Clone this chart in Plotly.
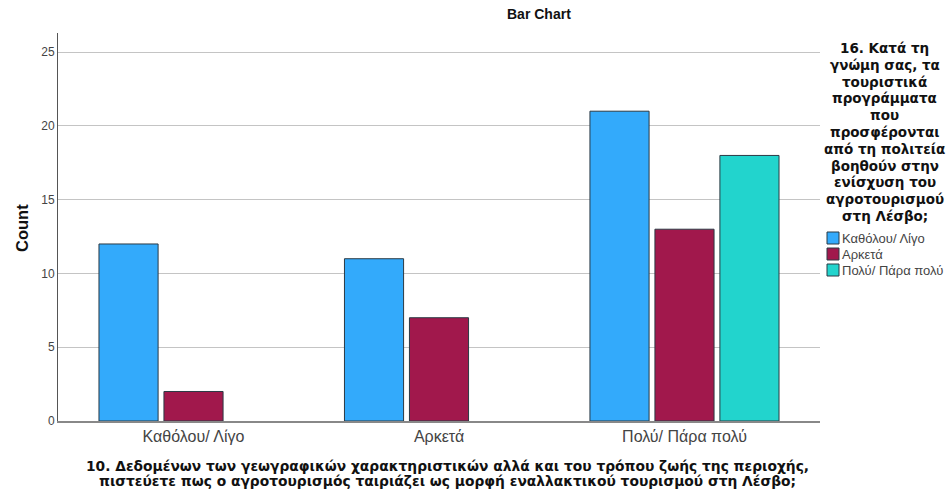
import plotly.graph_objects as go

categories = ["Καθόλου/ Λίγο", "Αρκετά", "Πολύ/ Πάρα πολύ"]
series_names = ["Καθόλου/ Λίγο", "Αρκετά", "Πολύ/ Πάρα πολύ"]
series_values = [
    [12, 11, 21],
    [2, 7, 13],
    [None, None, 18],
]
colors = ["#33aafb", "#a1184c", "#22d4cd"]
y_ticks = [0, 5, 10, 15, 20, 25]
legend_title = ["16. Κατά τη", "γνώμη σας, τα", "τουριστικά", "προγράμματα", "που",
                "προσφέρονται", "από τη πολιτεία", "βοηθούν στην", "ενίσχυση του",
                "αγροτουρισμού", "στη Λέσβο;"]
x_title = ["10. Δεδομένων των γεωγραφικών χαρακτηριστικών αλλά και του τρόπου ζωής της περιοχής,",
           "πιστεύετε πως ο αγροτουρισμός ταιριάζει ως μορφή εναλλακτικού τουρισμού στη Λέσβο;"]

W, H = 947, 493
L, R, T, B = 58, 127, 33, 72
pw, ph = W - L - R, H - T - B


def px(x):
    return (x - L) / pw


def py(y):
    return (H - B - y) / ph


fig = go.Figure()
for name, vals, col in zip(series_names, series_values, colors):
    fig.add_trace(go.Bar(
        x=categories, y=vals, name=name,
        marker=dict(color=col, line=dict(color="#2b3a44", width=1)),
        showlegend=False,
    ))

font = "Liberation Sans, Arial, sans-serif"
bold_font = "DejaVu Sans, Liberation Sans, Arial, sans-serif"

ann = []
shapes = []
ann.append(dict(text="<b>Bar Chart</b>", x=px(539), y=py(14), yanchor="middle",
                font=dict(size=14, color="#111")))
ann.append(dict(text="<b>Count</b>", x=px(22), y=py(228), textangle=-90, yanchor="middle",
                font=dict(size=16.5, color="#111")))
for i, line in enumerate(x_title):
    ann.append(dict(text="<b>%s</b>" % line, x=px(447), y=py(466 + i * 15.5), yanchor="middle",
                    font=dict(family=bold_font, size=13.8, color="#111")))
for i, line in enumerate(legend_title):
    ann.append(dict(text="<b>%s</b>" % line, x=px(885), y=py(48 + i * 16.8), yanchor="middle",
                    font=dict(family=bold_font, size=13.5, color="#111")))
for i, (name, col) in enumerate(zip(series_names, colors)):
    yc = 238 + i * 16
    shapes.append(dict(type="rect", xref="paper", yref="paper",
                       x0=px(827), x1=px(839), y0=py(yc + 6), y1=py(yc - 6),
                       fillcolor=col, line=dict(color="#2b3a44", width=1)))
    ann.append(dict(text=name, x=px(840), y=py(yc), xanchor="left", yanchor="middle",
                    font=dict(size=13, color="#444")))
for a in ann:
    a.setdefault("xanchor", "center")
    a["xref"] = "paper"
    a["yref"] = "paper"
    a["showarrow"] = False

fig.update_layout(
    width=W, height=H,
    margin=dict(l=L, r=R, t=T, b=B, autoexpand=False),
    paper_bgcolor="white", plot_bgcolor="white",
    barmode="group", bargap=0.206, bargroupgap=0.09,
    font=dict(family=font, color="#222"),
    xaxis=dict(
        type="category", range=[-0.552, 2.552],
        showline=True, linecolor="#888", linewidth=1.5,
        ticks="", showgrid=False, automargin=False,
        tickfont=dict(size=16, color="#444"),
    ),
    yaxis=dict(
        range=[0, 26.3], tickvals=y_ticks, automargin=False,
        showline=True, linecolor="#555", linewidth=1,
        showgrid=True, gridcolor="#c4c4c4", gridwidth=1,
        ticks="", zeroline=False,
        tickfont=dict(size=12, color="#444"),
    ),
    annotations=ann, shapes=shapes,
)

fig.write_html("out.html", config={"displayModeBar": False},
               post_script="document.body.style.margin='0';")
